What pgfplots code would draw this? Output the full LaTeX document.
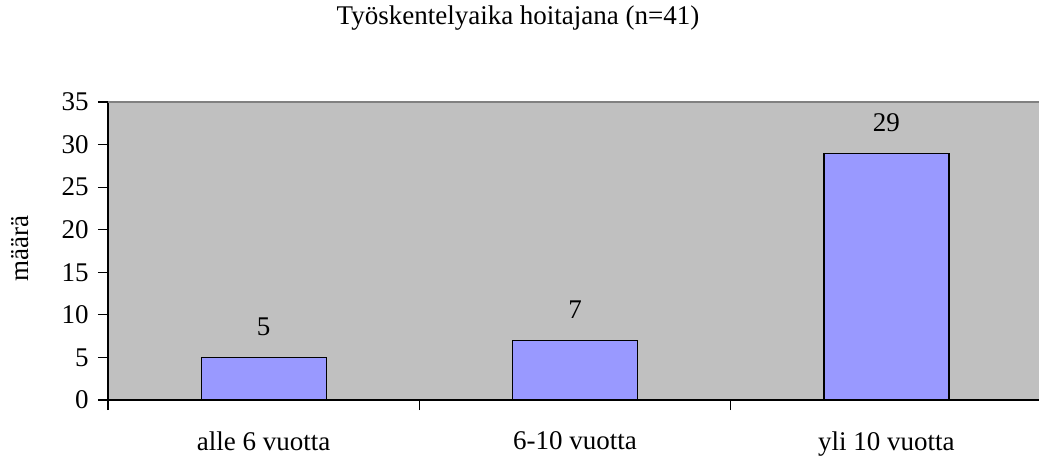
\documentclass[border=0pt]{standalone}
\usepackage{pgfplots}
\pgfplotsset{compat=1.18}
\usepackage{fontspec}
\setmainfont{Liberation Serif}
\definecolor{plotbg}{HTML}{C0C0C0}
\definecolor{barfill}{HTML}{9999FF}
\begin{document}
\fontsize{13.5}{16}\selectfont
\begin{tikzpicture}
\path[use as bounding box] (0,0) rectangle (520pt,-228.5pt);
\begin{axis}[
  at={(54pt,-200pt)}, anchor=south west,
  scale only axis, width=465.5pt, height=149pt,
  xmin=-0.5, xmax=2.49, ymin=0, ymax=35,
  ytick={0,5,...,35},
  xtick={-0.5,0.5,1.5},
  xticklabels={},
  extra x ticks={0,1,2},
  extra x tick labels={alle 6 vuotta,6-10 vuotta,yli 10 vuotta},
  extra x tick style={major tick length=0pt, tick style={draw=none}},
  tick align=outside, major tick length=5pt,
  tick style={black, line width=0.6pt},
  axis x line*=bottom, axis y line*=left,
  axis line style={black, line width=0.8pt, -},
  axis background/.style={fill=plotbg},
  tick label style={font=\fontsize{13.5}{16}\selectfont},
  /pgf/number format/assume math mode=true,
  xticklabel style={yshift=-11pt},
  title={Työskentelyaika hoitajana (n=41)},
  title style={at={(axis description cs:0.4404,1.2416)}, anchor=center, font=\fontsize{13.5}{16}\selectfont},
  ylabel={määrä},
  ylabel style={at={(axis description cs:-0.0945,0.51)}, anchor=center, font=\fontsize{13.5}{16}\selectfont},
  ybar, bar width=62.5pt, bar shift=0pt,
  nodes near coords,
  nodes near coords style={anchor=south, inner sep=0pt, yshift=10.5pt, font=\fontsize{13.5}{16}\selectfont},
  clip=false,
]
\addplot[fill=barfill, draw=black, line width=0.6pt] coordinates {(0,5) (1,7) (2,29)};
\draw[gray, line width=0.8pt] (rel axis cs:0,1) -- (rel axis cs:1,1);
\end{axis}
\end{tikzpicture}
\end{document}
